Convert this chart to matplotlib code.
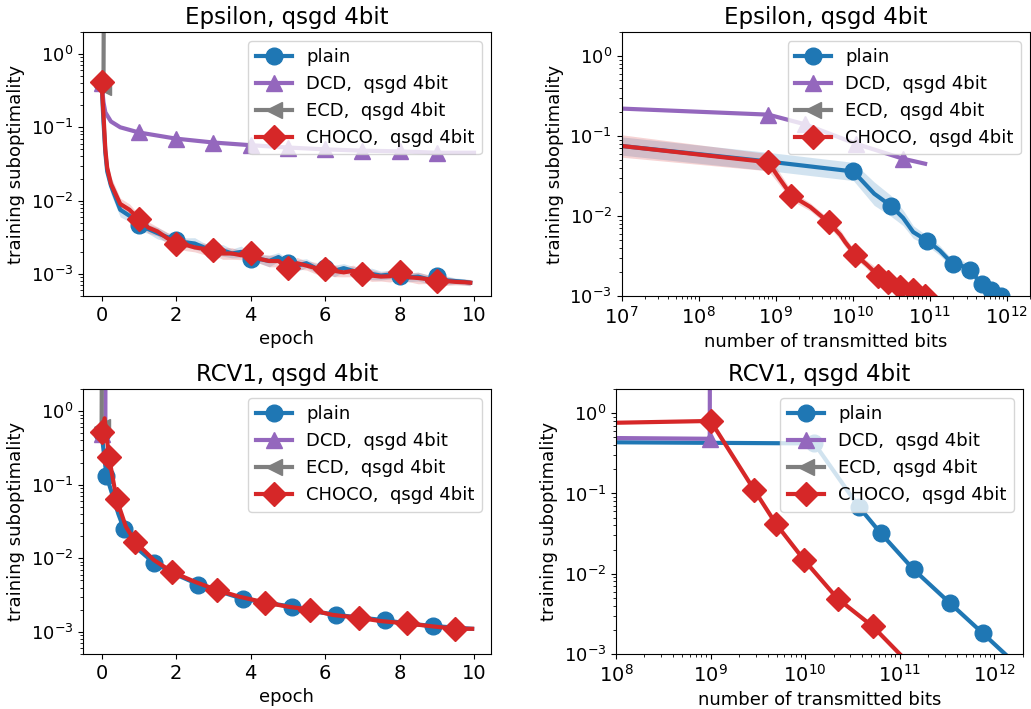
import matplotlib
matplotlib.use('Agg')
import matplotlib.pyplot as plt
import numpy as np

plt.rcParams['font.size'] = 13
plt.rcParams['xtick.labelsize'] = 14
plt.rcParams['ytick.labelsize'] = 13

C_PLAIN = '#1f77b4'
C_DCD = '#9467bd'
C_ECD = '#7f7f7f'
C_CHOCO = '#d62728'
LABELS = ['plain', 'DCD,  qsgd 4bit', 'ECD,  qsgd 4bit', 'CHOCO,  qsgd 4bit']

# Epsilon, x = epoch
eps_epoch = [0, 0.05, 0.1, 0.15, 0.25, 0.5, 0.75, 1.0, 1.25, 1.5, 1.75, 2.0, 2.25, 2.5, 2.75,
             3.0, 3.25, 3.5, 3.75, 4.0, 4.25, 4.5, 4.75, 5.0, 5.25, 5.5, 5.75, 6.0, 6.25, 6.5,
             6.75, 7.0, 7.25, 7.5, 7.75, 8.0, 8.25, 8.5, 8.75, 9.0, 9.25, 9.5, 9.75, 9.9]
eps_plain = [0.40, 0.12, 0.045, 0.025, 0.016, 0.0075, 0.0062, 0.0047, 0.0041, 0.0036, 0.0032,
             0.0029, 0.0027, 0.0026, 0.0023, 0.0021, 0.0021, 0.0019, 0.0020, 0.0016, 0.0016,
             0.0015, 0.0017, 0.0014, 0.0013, 0.0014, 0.0012, 0.0012, 0.0011, 0.0012, 0.0011,
             0.0010, 0.0010, 0.00095, 0.00098, 0.00093, 0.00090, 0.00092, 0.00085, 0.00095,
             0.00082, 0.00080, 0.00078, 0.00076]
eps_plain_spread = [0.1, 0.3, 0.3, 0.3, 0.3, 0.25, 0.2, 0.2, 0.15, 0.2, 0.15, 0.2, 0.15, 0.2, 0.15,
                    0.15, 0.2, 0.15, 0.2, 0.15, 0.15, 0.2, 0.15, 0.15, 0.2, 0.15, 0.15, 0.15, 0.2,
                    0.15, 0.15, 0.15, 0.2, 0.15, 0.15, 0.2, 0.15, 0.15, 0.15, 0.15, 0.15, 0.1,
                    0.1, 0.1]
eps_choco = [0.42, 0.15, 0.05, 0.028, 0.017, 0.009, 0.0075, 0.0056, 0.0043, 0.0038, 0.0031,
             0.0026, 0.0025, 0.0023, 0.0022, 0.0021, 0.0019, 0.0019, 0.0018, 0.0019, 0.0016,
             0.0015, 0.0015, 0.0012, 0.0014, 0.0013, 0.0012, 0.00115, 0.0011, 0.00105, 0.0011,
             0.0010, 0.00095, 0.00092, 0.00093, 0.00105, 0.00090, 0.00088, 0.00085, 0.00079,
             0.00080, 0.00078, 0.00077, 0.00076]
eps_choco_spread = [0.1, 0.3, 0.3, 0.25, 0.25, 0.2, 0.2, 0.15, 0.2, 0.15, 0.2, 0.15, 0.2, 0.15,
                    0.2, 0.15, 0.2, 0.2, 0.15, 0.2, 0.15, 0.2, 0.2, 0.15, 0.2, 0.15, 0.2, 0.15,
                    0.2, 0.15, 0.2, 0.15, 0.2, 0.15, 0.2, 0.2, 0.15, 0.2, 0.15, 0.15, 0.15, 0.1,
                    0.1, 0.1]
eps_marks = [0, 7, 11, 15, 19, 23, 27, 31, 35, 39]
eps_dcd_epoch = [0, 0.05, 0.1, 0.25, 0.5, 1, 2, 3, 4, 5, 6, 7, 8, 9, 10]
eps_dcd = [0.40, 0.22, 0.16, 0.12, 0.10, 0.085, 0.070, 0.062, 0.057, 0.053, 0.050, 0.048,
           0.047, 0.045, 0.045]
eps_ecd_epoch = [0, 0.05, 0.1]
eps_ecd = [0.40, 0.36, 1e6]

# Epsilon, x = transmitted bits
epsb_plain_x = [1e7, 8e8, 1.02e10, 1.9e10, 3.1e10, 4.5e10, 6.1e10, 9.3e10, 1.35e11, 2.0e11,
                2.6e11, 3.3e11, 4.0e11, 4.7e11, 5.5e11, 6.3e11, 7.4e11, 8.5e11, 9.5e11]
epsb_plain = [0.075, 0.048, 0.036, 0.019, 0.0135, 0.0095, 0.0063, 0.0049, 0.0037, 0.0025,
              0.0024, 0.0021, 0.0017, 0.0014, 0.0013, 0.0012, 0.0011, 0.0010, 0.00095]
epsb_plain_spread = [0.3, 0.3, 0.3, 0.4, 0.35, 0.25, 0.2, 0.15, 0.15, 0.12, 0.18, 0.12,
                     0.15, 0.1, 0.12, 0.1, 0.1, 0.1, 0.1]
epsb_plain_marks = [2, 4, 7, 9, 11, 13, 15, 17]
epsb_choco_x = [1e7, 8e8, 1.1e9, 1.6e9, 2.8e9, 4.9e9, 6.9e9, 8.0e9, 1.07e10, 1.5e10, 2.15e10,
                2.9e10, 3.5e10, 4.1e10, 5.0e10, 6.1e10, 7.2e10, 8.7e10]
epsb_choco = [0.075, 0.047, 0.030, 0.018, 0.013, 0.0083, 0.0058, 0.0047, 0.0033, 0.0025,
              0.0018, 0.0015, 0.0014, 0.0013, 0.00125, 0.0012, 0.0011, 0.0010]
epsb_choco_spread = [0.38, 0.28, 0.2, 0.15, 0.12, 0.12, 0.15, 0.15, 0.12, 0.12, 0.2, 0.15,
                     0.12, 0.12, 0.1, 0.1, 0.1, 0.1]
epsb_choco_marks = [1, 3, 5, 8, 10, 11, 13, 15, 17]
epsb_dcd_x = [1e7, 8e8, 2.4e9, 1.1e10, 4.5e10, 8.7e10]
epsb_dcd = [0.22, 0.185, 0.14, 0.08, 0.052, 0.045]
epsb_ecd_x = [1e7, 1e9]
epsb_ecd = [1e3, 1e6]

# RCV1, x = epoch
rcv_plain_x = [0, 0.13, 0.3, 0.45, 0.6, 0.8, 1.0, 1.4, 2.0, 2.6, 3.2, 3.8, 4.4, 5.1, 5.7,
               6.3, 7.0, 7.6, 8.2, 8.9, 9.95]
rcv_plain = [0.5, 0.133, 0.07, 0.04, 0.025, 0.017, 0.013, 0.0087, 0.006, 0.0044, 0.0035,
             0.0028, 0.0025, 0.0022, 0.0019, 0.0017, 0.00155, 0.00144, 0.0013, 0.0012, 0.0011]
rcv_plain_marks = [0, 1, 4, 7, 9, 11, 13, 15, 17, 19]
rcv_choco_x = [0, 0.08, 0.2, 0.4, 0.65, 0.9, 1.4, 1.9, 2.5, 3.1, 3.7, 4.4, 5.0, 5.6, 6.2,
               6.9, 7.5, 8.2, 8.8, 9.5, 9.95]
rcv_choco = [0.52, 0.8, 0.236, 0.064, 0.027, 0.0167, 0.0095, 0.0065, 0.0048, 0.0037, 0.003,
             0.0025, 0.0022, 0.002, 0.0017, 0.00155, 0.0014, 0.0013, 0.0012, 0.0011, 0.0011]
rcv_choco_marks = [0, 2, 3, 5, 7, 9, 11, 13, 15, 17, 19]
rcv_dcd_x = [0, 0.1, 0.12]
rcv_dcd = [0.49, 0.5, 1e6]
rcv_ecd_x = [0, 0.04]
rcv_ecd = [0.6, 1e6]

# RCV1, x = transmitted bits
rcvb_plain_x = [1e8, 1.25e10, 3.7e10, 6.3e10, 1.4e11, 3.4e11, 7.6e11, 1.3e12]
rcvb_plain = [0.434, 0.42, 0.068, 0.032, 0.0113, 0.0043, 0.0018, 0.001]
rcvb_choco_x = [1e8, 1e9, 2.9e9, 4.9e9, 9.8e9, 2.2e10, 5.2e10, 1.0e11]
rcvb_choco = [0.76, 0.8, 0.11, 0.042, 0.0147, 0.0049, 0.0022, 0.001]
rcvb_dcd_x = [1e8, 9.8e8, 1.0e9]
rcvb_dcd = [0.49, 0.48, 1e6]
rcvb_ecd_x = [1e8, 1e9]
rcvb_ecd = [1e4, 1e6]


def draw(ax, x, y, color, marker, label, marks, spread=None):
    x = np.asarray(x, float)
    y = np.asarray(y, float)
    if spread is not None:
        s = np.asarray(spread, float)
        ax.fill_between(x, y / (1 + s), y * (1 + s), color=color, alpha=0.2, lw=0)
    ax.plot(x, y, color=color, lw=3, marker=marker, ms=12, markevery=marks, label=label)


def finish(ax, title, xlabel, ylim):
    ax.set_yscale('log')
    ax.set_ylim(*ylim)
    ax.set_title(title, fontsize=16.5)
    ax.set_xlabel(xlabel)
    ax.set_ylabel('training suboptimality')
    ax.legend(loc='upper right')


fig = plt.figure(figsize=(10.31, 7.09), dpi=100)
ax_tl = fig.add_axes([0.0805, 0.5825, 0.3955, 0.3725])
ax_tr = fig.add_axes([0.603, 0.5825, 0.396, 0.3725])
ax_bl = fig.add_axes([0.0805, 0.0776, 0.3955, 0.3737])
ax_br = fig.add_axes([0.5975, 0.0776, 0.3945, 0.3737])

draw(ax_tl, eps_epoch, eps_plain, C_PLAIN, 'o', LABELS[0], eps_marks, eps_plain_spread)
draw(ax_tl, eps_dcd_epoch, eps_dcd, C_DCD, '^', LABELS[1], [0, 5, 6, 7, 8, 9, 10, 11, 12, 13])
draw(ax_tl, eps_ecd_epoch, eps_ecd, C_ECD, '<', LABELS[2], [1])
draw(ax_tl, eps_epoch, eps_choco, C_CHOCO, 'D', LABELS[3], eps_marks, eps_choco_spread)
ax_tl.set_xlim(-0.5, 10.45)
finish(ax_tl, 'Epsilon, qsgd 4bit', 'epoch', (5e-4, 2))

draw(ax_tr, epsb_plain_x, epsb_plain, C_PLAIN, 'o', LABELS[0], epsb_plain_marks, epsb_plain_spread)
draw(ax_tr, epsb_dcd_x, epsb_dcd, C_DCD, '^', LABELS[1], [1, 2, 3, 4])
draw(ax_tr, epsb_ecd_x, epsb_ecd, C_ECD, '<', LABELS[2], [0])
draw(ax_tr, epsb_choco_x, epsb_choco, C_CHOCO, 'D', LABELS[3], epsb_choco_marks, epsb_choco_spread)
ax_tr.set_xscale('log')
ax_tr.set_xlim(1e7, 2e12)
finish(ax_tr, 'Epsilon, qsgd 4bit', 'number of transmitted bits', (1e-3, 2))

draw(ax_bl, rcv_plain_x, rcv_plain, C_PLAIN, 'o', LABELS[0], rcv_plain_marks)
draw(ax_bl, rcv_dcd_x, rcv_dcd, C_DCD, '^', LABELS[1], [0])
draw(ax_bl, rcv_ecd_x, rcv_ecd, C_ECD, '<', LABELS[2], [0])
draw(ax_bl, rcv_choco_x, rcv_choco, C_CHOCO, 'D', LABELS[3], rcv_choco_marks)
ax_bl.set_xlim(-0.5, 10.45)
finish(ax_bl, 'RCV1, qsgd 4bit', 'epoch', (5e-4, 2))

draw(ax_br, rcvb_plain_x, rcvb_plain, C_PLAIN, 'o', LABELS[0], [1, 2, 3, 4, 5, 6])
draw(ax_br, rcvb_dcd_x, rcvb_dcd, C_DCD, '^', LABELS[1], [1])
draw(ax_br, rcvb_ecd_x, rcvb_ecd, C_ECD, '<', LABELS[2], [0])
draw(ax_br, rcvb_choco_x, rcvb_choco, C_CHOCO, 'D', LABELS[3], [1, 2, 3, 4, 5, 6])
ax_br.set_xscale('log')
ax_br.set_xlim(1e8, 2e12)
finish(ax_br, 'RCV1, qsgd 4bit', 'number of transmitted bits', (1e-3, 2))

fig.savefig('out.png', dpi=100)
